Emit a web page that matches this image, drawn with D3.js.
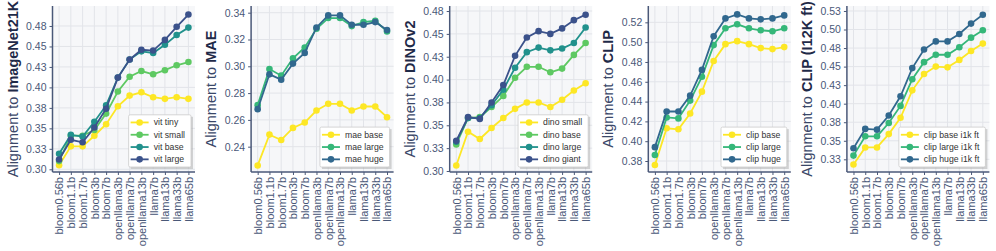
<!DOCTYPE html>
<html>
<head>
<meta charset="utf-8">
<script src="https://cdn.jsdelivr.net/npm/d3@7"></script>
<style>
  body { margin: 0; background: #fff; }
  text { font-family: "Liberation Sans", Arial, sans-serif; }
</style>
</head>
<body>
<div id="chart"></div>
<script>
// categories on the x axis
var models = ["bloom0.56b", "bloom1.1b", "bloom1.7b", "bloom3b", "bloom7b",
  "openllama3b", "openllama7b", "openllama13b", "llama7b", "llama13b", "llama33b", "llama65b"];

// panel titles (y labels)
var targets = ["ImageNet21K", "MAE", "DINOv2", "CLIP", "CLIP (I12K ft)"];

// series names per panel
var vitNames = ["vit tiny", "vit small", "vit base", "vit large"];
var maeNames = ["mae base", "mae large", "mae huge"];
var dinoNames = ["dino small", "dino base", "dino large", "dino giant"];
var clipNames = ["clip base", "clip large", "clip huge"];
var clipFtNames = ["clip base i1k ft", "clip large i1k ft", "clip huge i1k ft"];

// values
var vitValues = [
  [0.305, 0.328, 0.328, 0.341, 0.355, 0.377, 0.390, 0.394, 0.388, 0.386, 0.388, 0.386],
  [0.310, 0.341, 0.341, 0.348, 0.368, 0.395, 0.413, 0.420, 0.416, 0.421, 0.427, 0.431],
  [0.319, 0.342, 0.340, 0.358, 0.378, 0.412, 0.434, 0.444, 0.442, 0.452, 0.464, 0.473],
  [0.312, 0.336, 0.333, 0.351, 0.374, 0.412, 0.434, 0.446, 0.445, 0.458, 0.474, 0.489]
];
var maeValues = [
  [0.226, 0.249, 0.245, 0.254, 0.258, 0.267, 0.272, 0.272, 0.267, 0.270, 0.270, 0.262],
  [0.271, 0.298, 0.293, 0.306, 0.314, 0.328, 0.336, 0.336, 0.330, 0.333, 0.334, 0.326],
  [0.268, 0.294, 0.290, 0.302, 0.310, 0.329, 0.338, 0.338, 0.331, 0.331, 0.333, 0.327]
];
var dinoValues = [
  [0.306, 0.343, 0.335, 0.347, 0.358, 0.368, 0.375, 0.375, 0.370, 0.378, 0.388, 0.396],
  [0.329, 0.358, 0.359, 0.370, 0.382, 0.402, 0.414, 0.414, 0.408, 0.412, 0.427, 0.440],
  [0.332, 0.358, 0.358, 0.372, 0.389, 0.413, 0.430, 0.435, 0.432, 0.434, 0.440, 0.457],
  [0.333, 0.359, 0.357, 0.375, 0.394, 0.426, 0.446, 0.453, 0.450, 0.456, 0.465, 0.471]
];
var clipValues = [
  [0.376, 0.413, 0.412, 0.428, 0.450, 0.481, 0.498, 0.501, 0.498, 0.494, 0.493, 0.495],
  [0.386, 0.424, 0.423, 0.441, 0.465, 0.497, 0.514, 0.518, 0.514, 0.512, 0.511, 0.514],
  [0.394, 0.430, 0.430, 0.446, 0.472, 0.506, 0.524, 0.528, 0.524, 0.523, 0.524, 0.527]
];
var clipFtValues = [
  [0.318, 0.341, 0.341, 0.359, 0.381, 0.418, 0.440, 0.450, 0.449, 0.459, 0.471, 0.481],
  [0.330, 0.356, 0.356, 0.374, 0.397, 0.433, 0.456, 0.466, 0.466, 0.476, 0.489, 0.499],
  [0.340, 0.366, 0.365, 0.384, 0.410, 0.448, 0.473, 0.484, 0.484, 0.494, 0.508, 0.520]
];

// y tick values and labels per panel
var tickValues = [
  [0.300, 0.325, 0.350, 0.375, 0.400, 0.425, 0.450, 0.475],
  [0.24, 0.26, 0.28, 0.30, 0.32, 0.34],
  [0.300, 0.325, 0.350, 0.375, 0.400, 0.425, 0.450, 0.475],
  [0.38, 0.40, 0.42, 0.44, 0.46, 0.48, 0.50, 0.52],
  [0.325, 0.350, 0.375, 0.400, 0.425, 0.450, 0.475, 0.500, 0.525]
];
var tickLabels = [
  ["0.30", "0.33", "0.35", "0.38", "0.40", "0.43", "0.45", "0.48"],
  ["0.24", "0.26", "0.28", "0.30", "0.32", "0.34"],
  ["0.30", "0.33", "0.35", "0.38", "0.40", "0.43", "0.45", "0.48"],
  ["0.38", "0.40", "0.42", "0.44", "0.46", "0.48", "0.50", "0.52"],
  ["0.33", "0.35", "0.38", "0.40", "0.43", "0.45", "0.48", "0.50", "0.53"]
];
var yDomains = [[0.2967, 0.4994], [0.2211, 0.345], [0.2989, 0.4805], [0.3689, 0.5365], [0.3079, 0.5317]];

var panels = [
  {names: vitNames, values: vitValues},
  {names: maeNames, values: maeValues},
  {names: dinoNames, values: dinoValues},
  {names: clipNames, values: clipValues},
  {names: clipFtNames, values: clipFtValues}
];

var colors4 = ["#fde725", "#5ec962", "#21918c", "#3b528b"];
var colors3 = ["#fde725", "#35b779", "#31688e"];

var svgWidth = 996, svgHeight = 251;
var plotTop = 6, plotBottom = 172, plotW = 142.5;
var axisColor = "#4a5878";

var svg = d3.select("#chart").append("svg")
  .attr("width", svgWidth)
  .attr("height", svgHeight);

panels.forEach(function(p, i) {
  var left = 52.5 + i * 198.6;
  var colors = p.names.length === 4 ? colors4 : colors3;

  var x = d3.scalePoint().domain(models).range([left, left + plotW]).padding(0.56);
  var y = d3.scaleLinear().domain(yDomains[i]).range([plotBottom, plotTop]);

  var g = svg.append("g");

  // background
  g.append("rect")
    .attr("x", left).attr("y", plotTop)
    .attr("width", plotW).attr("height", plotBottom - plotTop)
    .attr("fill", "#f6f7f9");

  // grid
  g.selectAll(".vg").data(models).enter().append("line")
    .attr("x1", d => x(d)).attr("x2", d => x(d))
    .attr("y1", plotTop).attr("y2", plotBottom)
    .attr("stroke", "#e2e4e9").attr("stroke-width", 1);
  g.selectAll(".hg").data(tickValues[i]).enter().append("line")
    .attr("x1", left).attr("x2", left + plotW)
    .attr("y1", d => y(d)).attr("y2", d => y(d))
    .attr("stroke", "#e2e4e9").attr("stroke-width", 1);

  // axes
  var yAxis = d3.axisLeft(y).tickValues(tickValues[i])
    .tickFormat((d, k) => tickLabels[i][k]).tickSize(3).tickPadding(3);
  var ya = g.append("g").attr("transform", `translate(${left},0)`).call(yAxis);
  ya.select(".domain").remove();
  ya.selectAll("line").attr("stroke", axisColor);
  ya.selectAll("text").attr("fill", axisColor).style("font-size", "10.5px");

  var xAxis = d3.axisBottom(x).tickSize(3).tickPadding(3);
  var xa = g.append("g").attr("transform", `translate(0,${plotBottom})`).call(xAxis);
  xa.select(".domain").remove();
  xa.selectAll("line").attr("stroke", axisColor);
  xa.selectAll("text")
    .attr("fill", axisColor)
    .style("font-size", "11px")
    .attr("text-anchor", "end")
    .attr("dy", "0.35em")
    .attr("transform", "rotate(-90)")
    .attr("x", -5)
    .attr("y", 0);

  // spines
  g.append("line").attr("x1", left).attr("x2", left).attr("y1", plotTop).attr("y2", plotBottom)
    .attr("stroke", axisColor).attr("stroke-width", 1.5);
  g.append("line").attr("x1", left).attr("x2", left + plotW).attr("y1", plotBottom).attr("y2", plotBottom)
    .attr("stroke", axisColor).attr("stroke-width", 1.5);

  // y label
  var lab = g.append("text")
    .attr("transform", `translate(${left - 40},${(plotTop + plotBottom) / 2}) rotate(-90)`)
    .attr("text-anchor", "middle")
    .attr("dy", "0.35em")
    .attr("fill", "#3a4768")
    .style("font-size", "14.5px");
  lab.append("tspan").text("Alignment to ");
  lab.append("tspan").style("font-weight", "bold").attr("fill", "#1f2a48").text(targets[i]);

  // lines + markers
  var line = d3.line().x((d, k) => x(models[k])).y(d => y(d));
  p.values.forEach(function(vals, s) {
    g.append("path").datum(vals)
      .attr("d", line)
      .attr("fill", "none")
      .attr("stroke", colors[s])
      .attr("stroke-width", 1.8);
    g.selectAll(".pt" + s).data(vals).enter().append("circle")
      .attr("cx", (d, k) => x(models[k]))
      .attr("cy", d => y(d))
      .attr("r", 3.3)
      .attr("fill", colors[s]);
  });

  // legend
  var rowH = 12.3, n = p.names.length;
  var lg = g.append("g");
  var texts = [];
  p.names.forEach(function(name, s) {
    texts.push(lg.append("text").style("font-size", "8.7px").attr("fill", "#333").text(name));
  });
  var tw = d3.max(texts, t => t.node().getComputedTextLength());
  var boxW = tw + 31, boxH = n * rowH + 3;
  var bx = left + plotW - 4 - boxW, by = plotBottom - 5 - boxH;
  lg.insert("rect", "text")
    .attr("x", bx + 2).attr("y", by + 2).attr("width", boxW).attr("height", boxH)
    .attr("fill", "#999").attr("opacity", 0.4);
  lg.insert("rect", "text")
    .attr("x", bx).attr("y", by).attr("width", boxW).attr("height", boxH)
    .attr("rx", 1.5)
    .attr("fill", "#fff").attr("stroke", "#cccccc").attr("stroke-width", 0.8);
  p.names.forEach(function(name, s) {
    var cy = by + 1.5 + rowH * (s + 0.5);
    lg.append("line")
      .attr("x1", bx + 2).attr("x2", bx + 20)
      .attr("y1", cy).attr("y2", cy)
      .attr("stroke", colors[s]).attr("stroke-width", 1.8);
    lg.append("circle").attr("cx", bx + 11).attr("cy", cy).attr("r", 3.3).attr("fill", colors[s]);
    texts[s].attr("x", bx + 25).attr("y", cy).attr("dy", "0.35em");
    lg.node().appendChild(texts[s].node());
  });
});
</script>
</body>
</html>
